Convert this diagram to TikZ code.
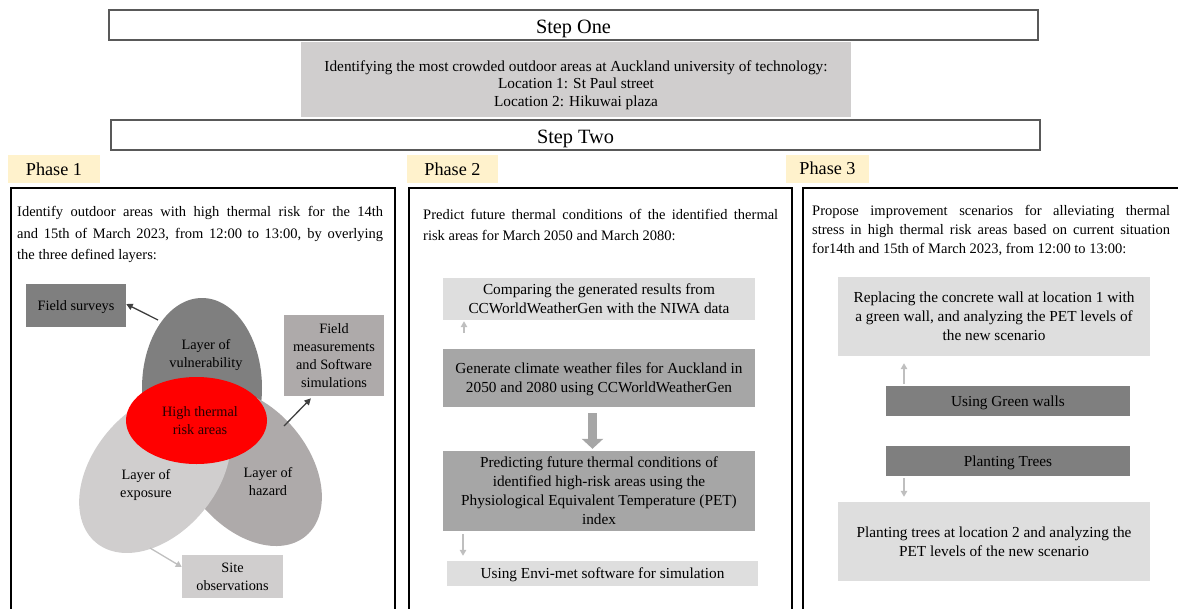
\documentclass[tikz,border=0pt]{standalone}
\usepackage{fontspec}
\setmainfont{Liberation Serif}
\usetikzlibrary{shapes.geometric,arrows.meta}
\definecolor{stepgray}{HTML}{595959}
\definecolor{infogray}{HTML}{D0CECE}
\definecolor{boxlight}{HTML}{DEDEDE}
\definecolor{boxmid}{HTML}{A6A6A6}
\definecolor{boxdark}{HTML}{7F7F7F}
\definecolor{phasebg}{HTML}{FFF2CC}
\definecolor{hazgray}{HTML}{AEAAAA}
\definecolor{expgray}{HTML}{D0CECE}
\definecolor{arrgray}{HTML}{BFBFBF}
\definecolor{arrdark}{HTML}{404040}
\begin{document}
\begin{tikzpicture}[x=1pt, y=-1pt,
    every node/.style={font=\fontsize{15.3}{19}\selectfont, align=center, text depth=0pt},
    stepbox/.style={draw=stepgray, line width=2pt, minimum width=929pt, minimum height=30pt,
        font=\fontsize{20.3}{22}\selectfont},
    phase/.style={fill=phasebg, minimum height=28pt, font=\fontsize{18.2}{20}\selectfont},
    panel/.style={draw=black, line width=1.6pt, anchor=north west, minimum height=450pt},
    ptext/.style={anchor=north west, inner sep=0pt, align=justify, font=\fontsize{14.5}{21.5}\selectfont},
    venn/.style={font=\fontsize{14.3}{18}\selectfont},
    lbox/.style={fill=boxlight, minimum width=312pt},
    mbox/.style={fill=boxmid, minimum width=312pt},
    dbox/.style={fill=boxdark, minimum width=244pt, minimum height=30pt},
    layer/.style={ellipse, inner sep=0pt},
    lgarr/.style={draw=arrgray, line width=1.3pt, -{Triangle[length=6pt,width=6.5pt]}},
    dkarr/.style={draw=arrdark, line width=1.3pt, -{Triangle[length=6.5pt,width=6.5pt]}}
]
    \useasboundingbox (0,0) rectangle (1178,608);

    \node[stepbox] (one) at (573.5,25) {\rule{0pt}{16.8pt}Step One};
    \node[fill=infogray, minimum width=550pt, minimum height=75pt,
        font=\fontsize{15.3}{17.5}\selectfont] (info) at (576,79.5)
        {\rule{0pt}{18.7pt}Identifying the most crowded outdoor areas at Auckland university of technology:\\
         Location 1: St Paul street\\ Location 2: Hikuwai plaza};
    \node[stepbox] (two) at (575.5,135) {\rule{0pt}{16.8pt}Step Two};

    \node[phase, minimum width=92pt] (ph1) at (54,169) {Phase 1};
    \node[phase, minimum width=91pt] (ph2) at (452.5,169) {Phase 2};
    \node[phase, minimum width=83pt] (ph3) at (827.5,168.5) {Phase 3};

    \node[panel, minimum width=384pt] (p1) at (10,187) {};
    \node[panel, minimum width=383pt] (p2) at (408,187) {};
    \node[panel, minimum width=390pt] (p3) at (802,187) {};

    \node[ptext, text width=366pt] (t1) at (17,206.5)
        {Identify outdoor areas with high thermal risk for the 14th\linebreak
         and 15th of March 2023, from 12:00 to 13:00, by overlying\linebreak
         the three defined layers:};
    \node[ptext, text width=355pt] (t2) at (423,209)
        {Predict future thermal conditions of the identified thermal\linebreak
         risk areas for March 2050 and March 2080:};
    \node[ptext, text width=358pt, font=\fontsize{14.5}{19}\selectfont] (t3) at (812,205)
        {Propose improvement scenarios for alleviating thermal\linebreak
         stress in high thermal risk areas based on current situation\linebreak
         for14th and 15th of March 2023, from 12:00 to 13:00:};

    \node[layer, fill=boxdark, minimum width=120pt, minimum height=180pt] (vul) at (202,388) {};
    \node[layer, fill=hazgray, minimum width=180pt, minimum height=120pt, rotate=-50] (haz) at (248,467) {};
    \node[layer, fill=expgray, minimum width=184pt, minimum height=124pt, rotate=50] (exp) at (155,472) {};
    \node[layer, fill=red, minimum width=141pt, minimum height=87pt] (risk) at (196.5,420.5) {};
    \node[venn] (vultxt) at (206,353) {Layer of\\ vulnerability};
    \node[venn] (exptxt) at (146,483) {Layer of\\ exposure};
    \node[venn] (haztxt) at (268,481) {Layer of\\ hazard};
    \node[venn, text=red!15!black] (risktxt) at (200,421) {High thermal\\ risk areas};

    \node[venn, fill=boxdark, minimum width=100pt, minimum height=43pt] (fs) at (76,305.5) {Field surveys};
    \node[venn, fill=hazgray, minimum width=100pt, minimum height=81pt] (fm) at (334,355.5)
        {Field\\ measurements\\ and Software\\ simulations};
    \node[venn, fill=expgray, minimum width=101pt, minimum height=43pt] (so) at (232.5,576.5)
        {Site\\ observations};
    \coordinate (vulout) at (158,320);
    \coordinate (hazout) at (284,426);
    \coordinate (expout) at (150,548);
    \draw[dkarr] (vulout) -- (fs.east |- 0,304);
    \draw[dkarr, shorten >=3pt] (hazout) -- (fm.south -| 313,0);
    \draw[lgarr] (expout) -- (so.west |- 0,567);

    \node[lbox, minimum height=42pt] (cmp) at (599,299)
        {Comparing the generated results from\\ CCWorldWeatherGen with the NIWA data};
    \node[mbox, minimum height=58pt] (gen) at (599,378)
        {Generate climate weather files for Auckland in\\ 2050 and 2080 using CCWorldWeatherGen};
    \node[mbox, minimum height=80pt] (pred) at (599,491)
        {Predicting future thermal conditions of\\ identified high-risk areas using the\\
         Physiological Equivalent Temperature (PET)\\ index};
    \node[lbox, minimum width=311pt, minimum height=25pt] (envi) at (602.5,573.5)
        {Using Envi-met software for simulation};
    \coordinate (genup) at (464,333);
    \coordinate (gendown) at (592.5,413);
    \coordinate (preddown) at (463,534);
    \draw[lgarr, shorten >=1pt] (genup) -- (genup |- cmp.south);
    \draw[draw=boxmid, line width=9pt, -{Triangle[length=10pt,width=21pt]}, shorten >=2pt]
        (gendown) -- (gendown |- pred.north);
    \draw[lgarr, shorten >=5pt] (preddown) -- (preddown |- envi.north);

    \node[lbox, minimum height=79pt] (repl) at (994,316.5)
        {Replacing the concrete wall at location 1 with\\ a green wall, and analyzing the PET levels of\\
         the new scenario};
    \node[dbox] (gw) at (1008,401) {Using Green walls};
    \node[dbox] (trees) at (1008,461) {Planting Trees};
    \node[lbox, minimum height=79pt] (plant) at (994,541.5)
        {Planting trees at location 2 and analyzing the\\ PET levels of the new scenario};
    \coordinate (gwup) at (904,384);
    \coordinate (treesdown) at (904,478);
    \draw[lgarr, shorten >=7pt] (gwup) -- (gwup |- repl.south);
    \draw[lgarr, shorten >=5pt] (treesdown) -- (treesdown |- plant.north);
\end{tikzpicture}
\end{document}
